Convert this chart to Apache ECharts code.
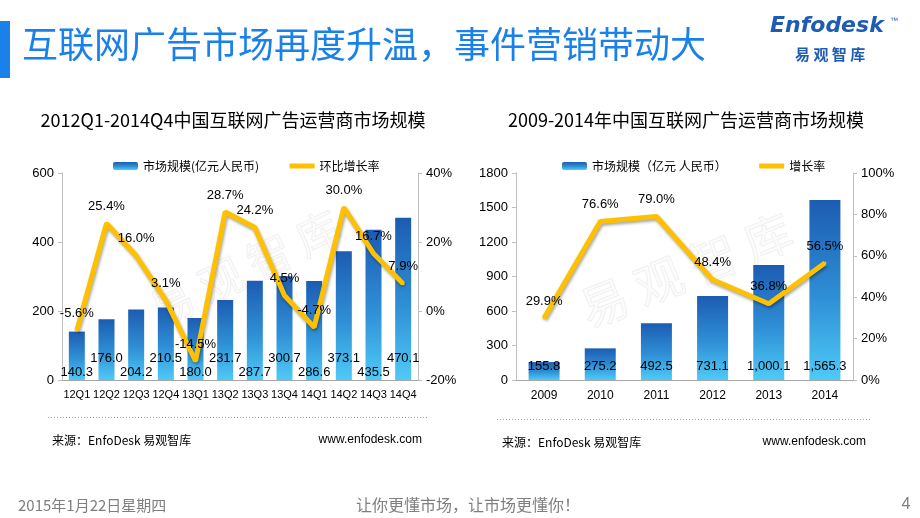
<!DOCTYPE html>
<html><head><meta charset="utf-8">
<script src="https://cdn.jsdelivr.net/npm/echarts@6/dist/echarts.min.js"></script>
<style>html,body{margin:0;padding:0;background:#fff}#c{width:920px;height:518px}</style>
</head><body><div id="c"></div>
<script>
const quarters = ['12Q1','12Q2','12Q3','12Q4','13Q1','13Q2','13Q3','13Q4','14Q1','14Q2','14Q3','14Q4'];
const quarterScale = [140.3,176.0,204.2,210.5,180.0,231.7,287.7,300.7,286.6,373.1,435.5,470.1];
const quarterGrowth = [-5.6,25.4,16.0,3.1,-14.5,28.7,24.2,4.5,-4.7,30.0,16.7,7.9];
const years = ['2009','2010','2011','2012','2013','2014'];
const yearScale = [155.8,275.2,492.5,731.1,1000.1,1565.3];
const yearGrowth = [29.9,76.6,79.0,48.4,36.8,56.5];
const leftTicks = [0,200,400,600];
const rightTicksQ = [-20,0,20,40];

const FONT = '"Liberation Sans","Noto Sans CJK SC",sans-serif';
const CJK = '"Noto Sans CJK SC",sans-serif';
const barGrad = () => new echarts.graphic.LinearGradient(0,0,0,1,[
  {offset:0,color:'#1c5cb2'},{offset:0.55,color:'#2f90d6'},{offset:1,color:'#4fcaf7'}]);
const lineColor = '#ffc000';
const fmt1 = v => v.toFixed(1);
const fmtThousands = v => { const s = v.toFixed(1).split('.'); return s[0].replace(/\B(?=(\d{3})+(?!\d))/g, ',') + '.' + s[1]; };

const chart = echarts.init(document.getElementById('c'), null, {renderer:'canvas'});

const axisLineStyle = {lineStyle:{color:'#bfbfbf', width:1}};
const yBase = (grid, pos, min, max, interval, suffix) => ({
  type:'value', gridIndex:grid, position:pos, min:min, max:max, interval:interval,
  axisLine:{show:true, ...axisLineStyle}, axisTick:{show:true, length:4, lineStyle:{color:'#bfbfbf'}},
  splitLine:{show:false},
  axisLabel:{color:'#000', fontSize:13, fontFamily:FONT, margin:8, formatter:v => String(v) + suffix}
});

const lineSeries = (name, xi, yi, data) => ({
  name:name, type:'line', xAxisIndex:xi, yAxisIndex:yi, data:data,
  symbol:'circle', symbolSize:3, showSymbol:true, z:5,
  lineStyle:{color:lineColor, width:5, shadowColor:'rgba(0,0,0,0.35)', shadowBlur:3, shadowOffsetX:1, shadowOffsetY:2},
  itemStyle:{color:lineColor},
  label:{show:true, position:'top', distance:9, color:'#000', fontSize:13, fontFamily:FONT,
    formatter:p => fmt1(p.value) + '%'}
});

const legendText = {fontSize:12, fontFamily:CJK, color:'#000'};
const lineLegendItem = name => ({name:name, itemStyle:{opacity:0}, lineStyle:{width:5, color:lineColor}});
const option = {
  animation:false,
  backgroundColor:'#fff',
  grid:[
    {left:62, top:173, width:356, height:207},
    {left:516, top:173, width:337, height:207}
  ],
  legend:[
    {data:['市场规模(亿元人民币)', lineLegendItem('环比增长率')], left:108, top:155, itemWidth:25, itemHeight:8, itemGap:28,
     textStyle:legendText},
    {data:['市场规模（亿元 人民币）', lineLegendItem('增长率')], left:557, top:155, itemWidth:25, itemHeight:8, itemGap:30,
     textStyle:legendText}
  ],
  xAxis:[
    {type:'category', gridIndex:0, data:quarters, axisLine:{show:true, lineStyle:{color:'#a6a6a6'}}, axisTick:{show:false},
     axisLabel:{interval:0, color:'#000', fontSize:11, fontFamily:FONT, margin:9}},
    {type:'category', gridIndex:1, data:years, axisLine:{show:true, lineStyle:{color:'#a6a6a6'}}, axisTick:{show:false},
     axisLabel:{interval:0, color:'#000', fontSize:12, fontFamily:FONT, margin:10}}
  ],
  yAxis:[
    yBase(0,'left',leftTicks[0],leftTicks[leftTicks.length-1],200,''),
    yBase(0,'right',rightTicksQ[0],rightTicksQ[rightTicksQ.length-1],20,'%'),
    yBase(1,'left',0,1800,300,''),
    yBase(1,'right',0,100,20,'%')
  ],
  series:[
    {name:'市场规模(亿元人民币)', type:'bar', xAxisIndex:0, yAxisIndex:0, barWidth:16,
     itemStyle:{color:barGrad()},
     data:quarterScale.map((v,i)=>({value:v, label:{distance: i%2===0 ? 1 : 15}})),
     label:{show:true, position:'insideBottom', color:'#000', fontSize:13, fontFamily:FONT, formatter:p=>fmt1(p.value)}},
    lineSeries('环比增长率',0,1,quarterGrowth),
    {name:'市场规模（亿元 人民币）', type:'bar', xAxisIndex:1, yAxisIndex:2, barWidth:31,
     itemStyle:{color:barGrad()},
     data:yearScale,
     label:{show:true, position:'insideBottom', distance:7, color:'#000', fontSize:13, fontFamily:FONT, formatter:p=>fmtThousands(p.value)}},
    lineSeries('增长率',1,3,yearGrowth)
  ],
  graphic:[
    {type:'rect', left:0, top:21, shape:{width:10, height:57}, style:{fill:'#1a80ea'}},
    {type:'text', left:22, top:26, style:{text:'互联网广告市场再度升温，事件营销带动大', fill:'#1a80ea', fontSize:36, fontFamily:CJK}},
    {type:'text', left:770, top:15, style:{text:'Enfodesk', fill:'#1e5cb3', fontSize:22, fontStyle:'italic', fontWeight:'bold', fontFamily:'"DejaVu Sans",sans-serif'}},
    {type:'text', left:890, top:17, style:{text:'™', fill:'#1e5cb3', fontSize:8, fontFamily:FONT}},
    {type:'text', left:795, top:47, style:{text:'易 观 智 库', fill:'#1e5cb3', fontSize:15, fontWeight:'bold', fontFamily:CJK}},
    // watermarks
    {type:'text', x:245, y:268, rotation:0.45, style:{text:'易 观 智 库', fill:'rgba(200,200,200,0.06)', stroke:'rgba(190,190,190,0.22)', lineWidth:1, fontSize:44, fontFamily:CJK, align:'center', verticalAlign:'middle'}, z:1},
    {type:'text', x:686, y:270, rotation:0.38, style:{text:'易 观 智 库', fill:'rgba(200,200,200,0.06)', stroke:'rgba(190,190,190,0.22)', lineWidth:1, fontSize:48, fontFamily:CJK, align:'center', verticalAlign:'middle'}, z:1},
    // chart titles
    {type:'text', x:233, y:120, style:{text:'2012Q1-2014Q4中国互联网广告运营商市场规模', fill:'#000', fontSize:18, fontFamily:CJK, align:'center', verticalAlign:'middle'}},
    {type:'text', x:686, y:120, style:{text:'2009-2014年中国互联网广告运营商市场规模', fill:'#000', fontSize:18, fontFamily:CJK, align:'center', verticalAlign:'middle'}},
    // dotted separators
    {type:'line', shape:{x1:48, y1:417.5, x2:427, y2:417.5}, style:{stroke:'#9a9a9a', lineWidth:1, lineDash:[1,2]}},
    {type:'line', shape:{x1:497, y1:419.5, x2:870, y2:419.5}, style:{stroke:'#9a9a9a', lineWidth:1, lineDash:[1,2]}},
    // sources
    {type:'text', x:52, y:440, style:{text:'来源：EnfoDesk 易观智库', fill:'#000', fontSize:12, fontFamily:CJK, verticalAlign:'middle'}},
    {type:'text', x:422, y:440, style:{text:'www.enfodesk.com', fill:'#000', fontSize:12, fontFamily:FONT, align:'right', verticalAlign:'middle'}},
    {type:'text', x:502, y:442, style:{text:'来源：EnfoDesk 易观智库', fill:'#000', fontSize:12, fontFamily:CJK, verticalAlign:'middle'}},
    {type:'text', x:866, y:442, style:{text:'www.enfodesk.com', fill:'#000', fontSize:12, fontFamily:FONT, align:'right', verticalAlign:'middle'}},
    // footer
    {type:'text', x:18, y:505, style:{text:'2015年1月22日星期四', fill:'#7f7f7f', fontSize:15, fontFamily:CJK, verticalAlign:'middle'}},
    {type:'text', x:468, y:505, style:{text:'让你更懂市场，让市场更懂你！', fill:'#7f7f7f', fontSize:16, fontFamily:CJK, align:'center', verticalAlign:'middle'}},
    {type:'text', x:906, y:505, style:{text:'4', fill:'#7f7f7f', fontSize:16, fontFamily:FONT, align:'center', verticalAlign:'middle'}}
  ]
};
chart.setOption(option);
</script>
</body></html>
